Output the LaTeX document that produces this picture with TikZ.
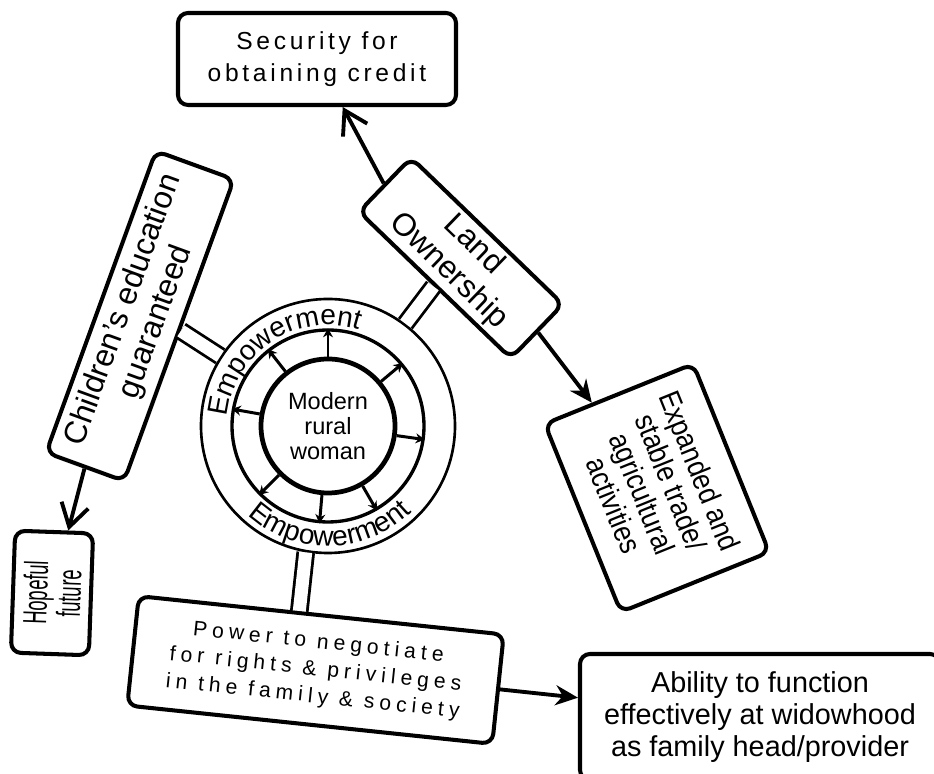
\documentclass[tikz,border=0pt]{standalone}
\usepackage{fontspec}
\setmainfont{Liberation Sans}
\usepackage{tikz}
\usetikzlibrary{calc,positioning,arrows.meta,decorations.text}

\newcommand{\empfont}{\fontsize{16}{18}\selectfont}

\begin{document}
\begin{tikzpicture}[
  box/.style={draw,line width=2.3pt,rounded corners=2mm,align=center,inner sep=2pt},
  dbl/.style={double,line width=1.6pt,double distance=2.6mm},
  opn/.style={line width=2.2pt,-{Straight Barb[length=4.5mm,width=5.5mm]}},
  fld/.style={line width=2.2pt,-{Stealth[length=4.5mm,width=4mm]}},
  spoke/.style={line width=1.7pt,-{Stealth[length=1.8mm,width=2mm]}}]
  \useasboundingbox (0,0) rectangle (18.68,15.48);
  \clip (0,0) rectangle (18.68,15.48);

  % rings in the middle
  \node[circle,draw,line width=1.5pt,minimum size=5.08cm] (ring) at (6.56,6.96) {};
  \node[circle,draw,line width=1.9pt,minimum size=3.84cm] (mid) at (6.56,6.96) {};
  \node[circle,draw,line width=2.7pt,minimum size=2.68cm,inner sep=0pt,align=center,
        font=\fontsize{13.4}{14.2}\selectfont,fill=white] (core) at (6.56,6.96) {Modern\\rural\\woman};
  \foreach \a in {90,40,-8,-60,-95,-135,170,128}
    \draw[spoke] (core.\a) -- (mid.\a);
  \path[decorate,decoration={text along path,text align=center,text={|\empfont|Empowerment}}]
    ($(ring.center)+(177:2.02)$) arc[start angle=177,end angle=70,radius=2.02];
  \path[decorate,decoration={text along path,text align=center,text={|\empfont|Empowerment}}]
    ($(ring.center)+(-139:2.4)$) arc[start angle=-139,end angle=-39,radius=2.4];

  % boxes
  \node[box,minimum width=5.56cm,minimum height=1.84cm,
        font=\fontsize{14}{18}\selectfont\addfontfeature{LetterSpace=15}] (security) at (6.34,14.30) {Security for\\obtaining credit};
  \node[box,rotate=-44,minimum width=4.22cm,minimum height=1.5cm,
        font=\fontsize{18}{20.5}\selectfont] (land) at (9.22,10.32) {Land\\Ownership};
  \node[box,rotate=70,minimum width=6.42cm,minimum height=1.66cm,
        font=\fontsize{18}{20}\selectfont] (children) at (2.80,9.16) {Children’s education\\guaranteed};
  \node[box,rotate=88,minimum width=2.44cm,minimum height=1.56cm,
        font=\fontsize{19}{19}\selectfont\addfontfeature{FakeStretch=0.55}] (hopeful) at (1.04,3.62) {Hopeful\\future};
  \node[box,rotate=-68,minimum width=4.06cm,minimum height=3.2cm,
        font=\fontsize{17}{17.6}\selectfont\addfontfeature{FakeStretch=0.88}] (expanded) at (13.14,5.72) {Expanded and\\stable trade/\\agricultural\\activities};
  \node[box,rotate=-6,minimum width=7.34cm,minimum height=2.2cm,
        font=\fontsize{12}{15.5}\selectfont\addfontfeature{LetterSpace=24}] (power) at (6.31,2.08) {Power to negotiate\\for rights \& privileges\\in the family \& society};
  \node[box,minimum width=7.2cm,minimum height=2.52cm,
        font=\fontsize{16.4}{18.2}\selectfont] (ability) at (15.2,1.14) {Ability to function\\effectively at widowhood\\as family head/provider};

  % links
  \draw[dbl] (land.south) -- (ring);
  \draw[dbl] (children.south) -- (ring);
  \draw[dbl] (ring.-100) -- ($(power.north west)!0.44!(power.north east)$);
  \draw[opn] (land.west) -- (security);
  \draw[fld] (land.east) -- (expanded);
  \draw[opn] (children.west) -- (hopeful);
  \draw[fld] (power.east) -- (ability);
\end{tikzpicture}
\end{document}
